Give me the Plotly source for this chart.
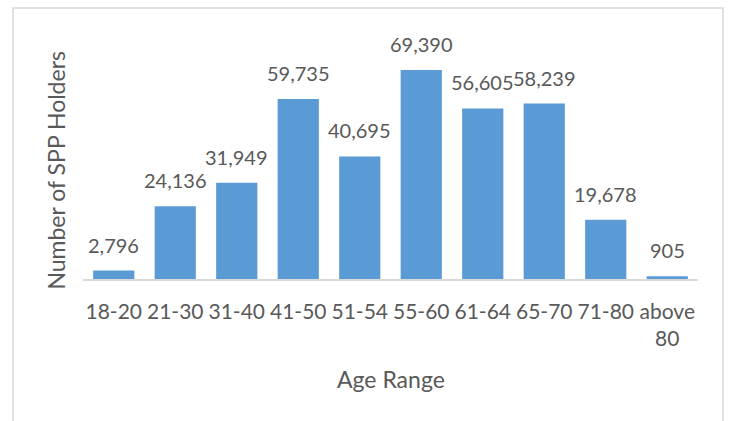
import plotly.graph_objects as go

age_ranges = ["18-20", "21-30", "31-40", "41-50", "51-54", "55-60",
              "61-64", "65-70", "71-80", "above 80"]
tick_labels = ["18-20", "21-30", "31-40", "41-50", "51-54", "55-60",
               "61-64", "65-70", "71-80", "above<br>80"]
holders = [2796, 24136, 31949, 59735, 40695, 69390, 56605, 58239, 19678, 905]

BAR = "#5B9BD5"
TEXT = "#595959"
GRID = "#D9D9D9"
FONT = "Lato, Open Sans, sans-serif"

fig = go.Figure()
fig.add_trace(go.Bar(
    x=age_ranges,
    y=holders,
    marker=dict(color=BAR, line=dict(width=0)),
    width=0.67,
    hoverinfo="x+y",
))

# value labels above each bar
for cat, v in zip(age_ranges, holders):
    fig.add_annotation(
        x=cat, y=v, xref="x", yref="y",
        text=f"{v:,}", showarrow=False,
        yanchor="bottom", yshift=12,
        font=dict(family=FONT, size=20, color=TEXT),
    )

# axis titles
fig.add_annotation(
    x=-0.017, y=0.452, xref="paper", yref="paper",
    text="Number of SPP Holders", textangle=-90, showarrow=False,
    xanchor="right", yanchor="middle",
    font=dict(family=FONT, size=23, color=TEXT),
)
fig.add_annotation(
    x=0.5, y=-0.415, xref="paper", yref="paper",
    text="Age Range", showarrow=False,
    xanchor="center", yanchor="middle",
    font=dict(family=FONT, size=23, color=TEXT),
)

# chart border
fig.add_shape(
    type="rect", xref="paper", yref="paper",
    x0=-0.1138, x1=1.0407, y0=-1.0, y1=1.1245,
    line=dict(color=GRID, width=1.5), fillcolor="rgba(0,0,0,0)",
    layer="below",
)

fig.update_layout(
    width=731, height=421,
    margin=dict(l=83, r=33, t=38, b=142),
    paper_bgcolor="white", plot_bgcolor="white",
    showlegend=False,
    font=dict(family=FONT, size=20, color=TEXT),
    xaxis=dict(
        tickmode="array", tickvals=age_ranges, ticktext=tick_labels,
        showline=True, linecolor=GRID, linewidth=1.5,
        ticks="outside", ticklen=13, tickcolor="rgba(0,0,0,0)",
        showgrid=False, tickangle=0,
        tickfont=dict(family=FONT, size=21, color=TEXT),
    ),
    yaxis=dict(
        range=[0, 80000], showticklabels=False, showgrid=False,
        zeroline=False, showline=False,
    ),
)

fig.write_html("out.html")
